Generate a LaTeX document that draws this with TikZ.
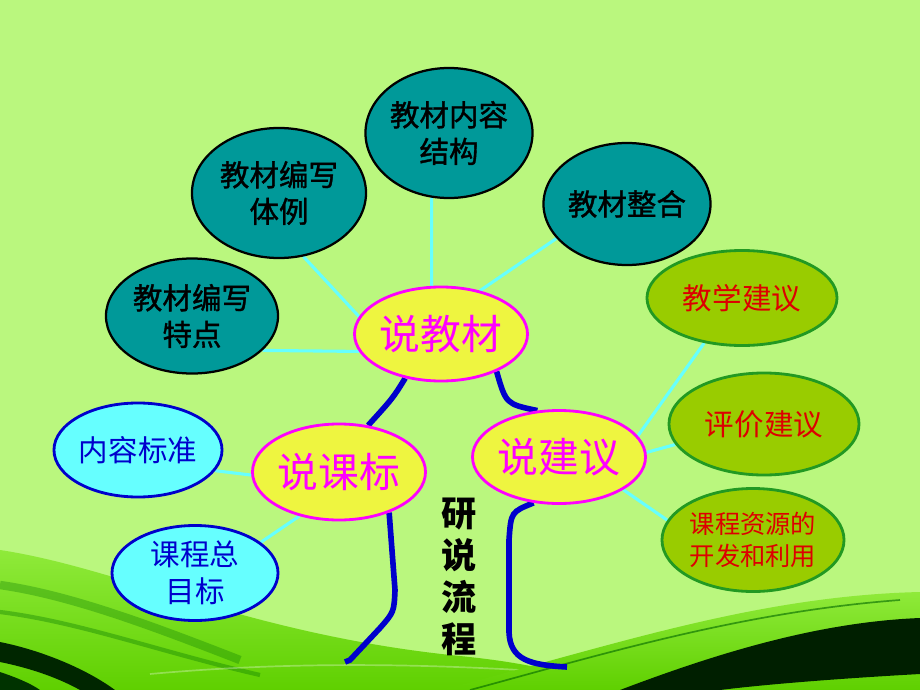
\documentclass[tikz,border=0pt]{standalone}
\usepackage{fontspec}
\setmainfont{Noto Sans CJK SC}
\newfontfamily\heifont[FakeBold=1.2]{Noto Sans CJK SC}
\usetikzlibrary{shapes.geometric}
\pgfdeclarelayer{back}
\pgfdeclarelayer{lines}
\pgfsetlayers{back,lines,main}
\definecolor{bgc}{HTML}{BAF77E}
\definecolor{tealc}{HTML}{009999}
\definecolor{yelc}{HTML}{EEF540}
\definecolor{magc}{HTML}{FF00FF}
\definecolor{cyanc}{HTML}{66FFFF}
\definecolor{bluec}{HTML}{0000CC}
\definecolor{olivec}{HTML}{99CC00}
\definecolor{dgreenc}{HTML}{229922}
\definecolor{redc}{HTML}{DD0000}
\definecolor{swgreen}{HTML}{5FD000}
\definecolor{swlight}{HTML}{8FEA3A}
\tikzset{
  oval/.style={ellipse, inner sep=0pt, align=center},
  tealnode/.style={oval, fill=tealc, draw=black, line width=1.6pt, text=black,
     font=\heifont\fontsize{21}{26}\selectfont},
  mainnode/.style={oval, fill=yelc, draw=magc, line width=2pt, text=magc,
     font=\fontsize{29}{34}\selectfont},
  cyannode/.style={oval, fill=cyanc, draw=bluec, line width=2pt, text=bluec,
     font=\fontsize{21}{26}\selectfont},
  olivenode/.style={oval, fill=olivec, draw=dgreenc, line width=2pt, text=redc,
     font=\fontsize{21}{26}\selectfont},
  thin/.style={draw=cyanc, line width=2.2pt},
  thick/.style={draw=bluec, line width=4pt},
}
\begin{document}
\begin{tikzpicture}[x=0.025cm,y=-0.025cm]
\useasboundingbox (0,0) rectangle (920,690);
\begin{pgfonlayer}{back}
\fill[bgc] (0,0) rectangle (920,690);
% left swoosh
\shade[top color=swlight, bottom color=swgreen]
  (0,550) .. controls (120,568) and (250,635) .. (460,656)
  .. controls (520,662) and (570,672) .. (610,690) -- (0,690) -- cycle;
\draw[green!45!black, line width=6pt, opacity=0.3]
  (0,585) .. controls (70,595) and (150,625) .. (240,660);
\draw[green!45!black, line width=3pt, opacity=0.35]
  (0,612) .. controls (80,622) and (160,652) .. (260,675);
\draw[white, line width=1.2pt, opacity=0.3]
  (150,674) .. controls (260,664) and (380,662) .. (520,670);
\fill[black!85!green]
  (0,642) .. controls (40,650) and (85,668) .. (115,690) -- (80,690)
  .. controls (55,676) and (25,667) .. (0,662) -- cycle;
\fill[black!80!green]
  (0,672) .. controls (15,677) and (30,683) .. (40,690) -- (0,690) -- cycle;
% right swoosh
\shade[top color=swlight, bottom color=swgreen]
  (440,690) .. controls (600,650) and (750,596) .. (920,592) -- (920,690) -- cycle;
\fill[black!88!green]
  (620,690) .. controls (720,652) and (820,622) .. (920,618) -- (920,674)
  .. controls (830,679) and (760,685) .. (720,690) -- cycle;
\draw[green!40!black, line width=1.2pt, opacity=0.6]
  (470,690) .. controls (600,655) and (740,612) .. (900,600);
\end{pgfonlayer}

% nodes
\node[tealnode, minimum width=4.15cm, minimum height=3.25cm] (nr) at (449,133) {教材内容\\结构};
\node[tealnode, minimum width=4.35cm, minimum height=3.25cm] (tl) at (279,193) {教材编写\\体例};
\node[tealnode, minimum width=4.0cm, minimum height=3.05cm] (zh) at (627,204) {教材整合};
\node[tealnode, minimum width=4.3cm, minimum height=2.875cm] (td) at (192,316) {教材编写\\特点};
\node[mainnode, minimum width=4.15cm, minimum height=2.35cm] (jc) at (441,334) {说教材};
\node[mainnode, minimum width=4.15cm, minimum height=2.4cm] (kb) at (339,472) {说课标};
\node[mainnode, minimum width=4.15cm, minimum height=2.325cm] (jy) at (559,457) {说建议};
\node[cyannode, minimum width=4.2cm, minimum height=2.35cm] (bz) at (138,450) {内容标准};
\node[cyannode, minimum width=4.15cm, minimum height=2.375cm] (mb) at (195,573) {课程总\\目标};
\node[olivenode, minimum width=4.75cm, minimum height=2.375cm] (jx) at (742,298) {教学建议};
\node[olivenode, minimum width=4.75cm, minimum height=2.55cm] (pj) at (764,424) {评价建议};
\node[olivenode, minimum width=4.55cm, minimum height=2.575cm,
      font=\fontsize{18}{23}\selectfont] (zy) at (753,540) {课程资源的\\开发和利用};
\node[font=\fontsize{25}{30}\selectfont\bfseries, align=center, text=black, inner sep=0pt]
  (lc) at (459,577) {研\\说\\流\\程};

\coordinate (lb) at (345,662);
\coordinate (rb) at (567,667);

\begin{pgfonlayer}{lines}
\draw[thin] (nr.255) -- (jc.101);
\draw[thin] (tl.291) -- (jc.168);
\draw[thin] (zh.206) -- (jc.48);
\draw[thin] (td.334) -- (jc.192);
\draw[thin] (bz.345) -- (kb.182);
\draw[thin] (mb.25) -- (kb.228);
\draw[thin] (jy.15) -- (jx.230);
\draw[thin] (jy.3) -- (pj.193);
\draw[thin] (jy.333) -- (zy.167);
\draw[thick] (jc.231) .. controls (393,398) .. (kb.58);
\draw[thick] (jc.326) .. controls (506,404) .. (jy.115);
\draw[thick] (kb.321) -- (395,590) .. controls (394,612) .. (380,628) -- (350,660) -- (lb);
\draw[thick] (jy.241) .. controls (511,512) .. (509,540) -- (509,632)
  .. controls (510,660) and (530,665) .. (rb);
\end{pgfonlayer}
\end{tikzpicture}
\end{document}
